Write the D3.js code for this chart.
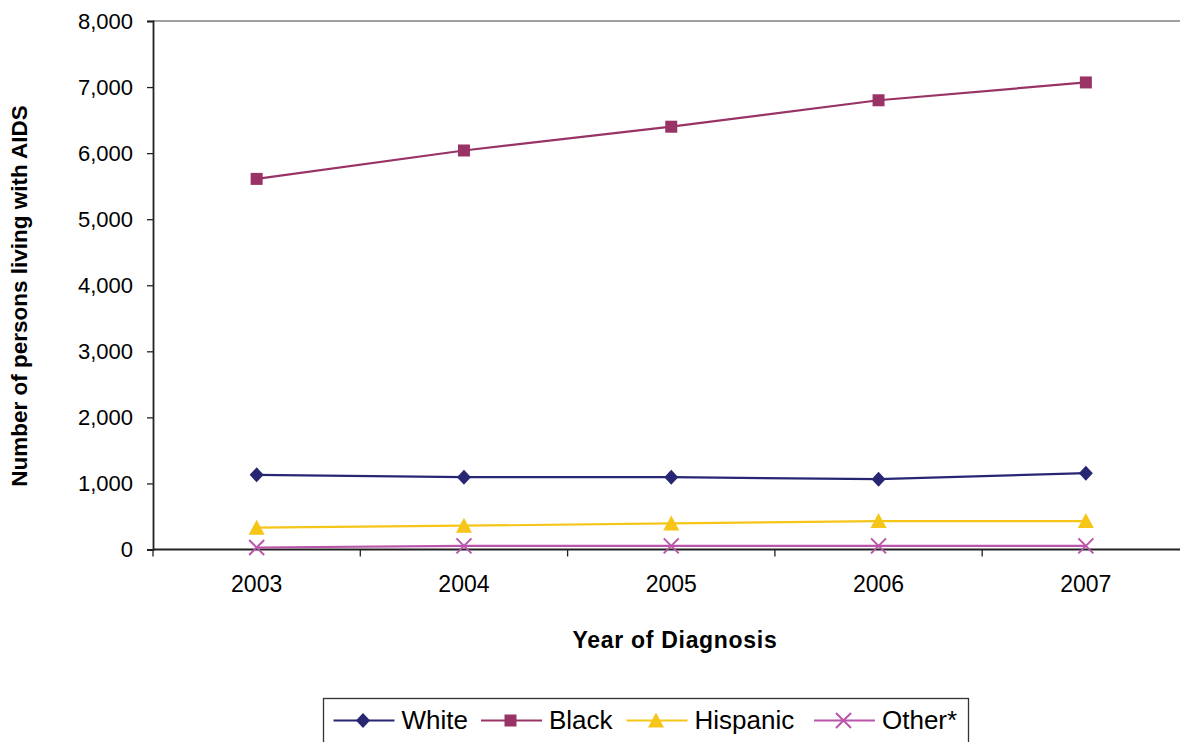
<!DOCTYPE html>
<html>
<head>
<meta charset="utf-8">
<script src="https://cdn.jsdelivr.net/npm/d3@7"></script>
<style>
  html, body { margin: 0; padding: 0; background: #fff; }
  svg { display: block; font-family: "Liberation Sans", Arial, sans-serif; }
</style>
</head>
<body>
<svg id="chart" width="1180" height="742"></svg>
<script>
// Persons living with AIDS by race/ethnicity and year of diagnosis
const years = ["2003", "2004", "2005", "2006", "2007"];
const white = [1130, 1095, 1095, 1065, 1155];
const black = [5610, 6040, 6400, 6800, 7070];
const hispanic = [330, 360, 395, 430, 430];
const other = [30, 55, 55, 55, 55];
const yTicks = [0, 1000, 2000, 3000, 4000, 5000, 6000, 7000, 8000];

const seriesNames = ["White", "Black", "Hispanic", "Other*"];
const seriesColors = ["#262673", "#993366", "#f5c518", "#bb55aa"];
const seriesShapes = ["diamond", "square", "triangle", "cross"];
const seriesValues = [white, black, hispanic, other];

const svg = d3.select("#chart");
const plotLeft = 153, plotTop = 21, plotW = 1036.5, plotBottom = 549.5;

const x = d3.scaleBand().domain(years).range([plotLeft, plotLeft + plotW]);
const y = d3.scaleLinear().domain([0, 8000]).range([plotBottom, plotTop]);

// top border of plot area
svg.append("line")
  .attr("x1", plotLeft).attr("x2", plotLeft + plotW)
  .attr("y1", y(8000)).attr("y2", y(8000))
  .attr("stroke", "#808080").attr("stroke-width", 1.5);

// y axis
const yAxis = d3.axisLeft(y).tickValues(yTicks).tickSize(6).tickPadding(14)
  .tickFormat(d3.format(","));
const gy = svg.append("g").attr("transform", `translate(${plotLeft},0)`).call(yAxis);
gy.select(".domain").attr("stroke", "#222").attr("stroke-width", 1.8);
gy.selectAll(".tick line").attr("stroke", "#222").attr("stroke-width", 1.3);
gy.selectAll(".tick text").attr("font-size", 22).attr("fill", "#000")
  .attr("font-family", "Liberation Sans, Arial, sans-serif");

// x axis with tick marks between categories
const gx = svg.append("g").attr("transform", `translate(0,${plotBottom})`);
gx.append("line").attr("x1", plotLeft).attr("x2", plotLeft + plotW)
  .attr("y1", 0).attr("y2", 0).attr("stroke", "#222").attr("stroke-width", 2);
const boundaries = years.map(d => x(d)).concat([x(years[years.length - 1]) + x.bandwidth()]);
gx.selectAll("line.tk").data(boundaries).join("line").attr("class", "tk")
  .attr("x1", d => d).attr("x2", d => d).attr("y1", 0).attr("y2", 7)
  .attr("stroke", "#222").attr("stroke-width", 1.3);
gx.selectAll("text").data(years).join("text")
  .attr("x", d => x(d) + x.bandwidth() / 2).attr("y", 42.5)
  .attr("text-anchor", "middle").attr("font-size", 23).attr("fill", "#000")
  .text(d => d);

// axis titles
svg.append("text").attr("x", 675).attr("y", 648)
  .attr("text-anchor", "middle").attr("font-size", 23).attr("font-weight", "bold")
  .attr("letter-spacing", 0.7)
  .text("Year of Diagnosis");
svg.append("text")
  .attr("transform", "translate(27,296) rotate(-90)")
  .attr("text-anchor", "middle").attr("font-size", 22.5).attr("font-weight", "bold")
  .text("Number of persons living with AIDS");

// marker shapes
function marker(g, shape, color, cx, cy) {
  if (shape === "diamond") {
    g.append("path").attr("d", `M${cx},${cy - 7.5}L${cx + 7},${cy}L${cx},${cy + 7.5}L${cx - 7},${cy}Z`)
      .attr("fill", color);
  } else if (shape === "square") {
    g.append("rect").attr("x", cx - 6).attr("y", cy - 6).attr("width", 12).attr("height", 12)
      .attr("fill", color);
  } else if (shape === "triangle") {
    g.append("path").attr("d", `M${cx},${cy - 8}L${cx + 8},${cy + 7}L${cx - 8},${cy + 7}Z`)
      .attr("fill", color);
  } else {
    g.append("path").attr("d", `M${cx - 7.5},${cy - 7.5}L${cx + 7.5},${cy + 7.5}M${cx + 7.5},${cy - 7.5}L${cx - 7.5},${cy + 7.5}`)
      .attr("stroke", color).attr("stroke-width", 2).attr("fill", "none");
  }
}

const line = d3.line().x((d, i) => x(years[i]) + x.bandwidth() / 2).y(d => y(d));

seriesValues.forEach((vals, s) => {
  const g = svg.append("g");
  g.append("path").datum(vals).attr("d", line)
    .attr("fill", "none").attr("stroke", seriesColors[s]).attr("stroke-width", 2.2);
  vals.forEach((v, i) => marker(g, seriesShapes[s], seriesColors[s],
    x(years[i]) + x.bandwidth() / 2, y(v)));
});

// legend
const lg = svg.append("g");
lg.append("rect").attr("x", 323.5).attr("y", 698.5).attr("width", 645).attr("height", 60)
  .attr("fill", "#fff").attr("stroke", "#333").attr("stroke-width", 1.3);
const legendX = [333.5, 481, 626.5, 814];
seriesNames.forEach((name, s) => {
  const lx = legendX[s], ly = 720.5;
  lg.append("line").attr("x1", lx).attr("x2", lx + 61).attr("y1", ly).attr("y2", ly)
    .attr("stroke", seriesColors[s]).attr("stroke-width", 2.2);
  marker(lg, seriesShapes[s], seriesColors[s], lx + 29.5, ly);
  lg.append("text").attr("x", lx + 68).attr("y", 728.5).attr("font-size", 26)
    .attr("fill", "#000").text(name);
});
</script>
</body>
</html>
